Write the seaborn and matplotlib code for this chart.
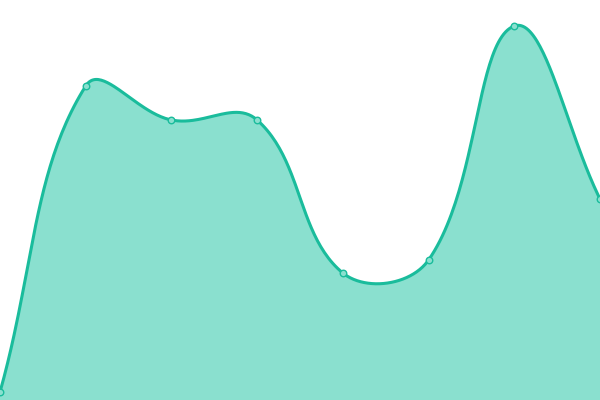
import numpy as np
import pandas as pd
import matplotlib
matplotlib.use('Agg')
import matplotlib.pyplot as plt
import seaborn as sns

# data
x_idx = [0, 1, 2, 3, 4, 5, 6, 7]
values = [8, 314, 280, 280, 127, 140, 374, 201]

LINE = '#1abc9c'
FILL = '#8ae0cf'
W, H = 600, 400


def smooth_curve(xs, ys, tension=0.4, n=50):
	# bezier smoothing of the polyline, done in pixel space (rendering only)
	k = len(xs) - 1
	pts = np.column_stack([np.asarray(xs, float) * W / k, np.asarray(ys, float)])
	m = len(pts)
	cp_in = pts.copy()
	cp_out = pts.copy()
	for i in range(m):
		p = pts[i]
		prev = pts[max(i-1, 0)]
		nxt = pts[min(i+1, m-1)]
		d0 = np.hypot(*(p - prev))
		d1 = np.hypot(*(nxt - p))
		s0 = d0 / (d0 + d1)
		s1 = d1 / (d0 + d1)
		cp_in[i] = p - tension * s0 * (nxt - prev)
		cp_out[i] = p + tension * s1 * (nxt - prev)
	cp_in[:, 0] = np.clip(cp_in[:, 0], 0, W); cp_out[:, 0] = np.clip(cp_out[:, 0], 0, W)
	cp_in[:, 1] = np.clip(cp_in[:, 1], 0, H); cp_out[:, 1] = np.clip(cp_out[:, 1], 0, H)
	ox, oy = [], []
	for i in range(m - 1):
		p1, c1, c2, p2 = pts[i], cp_out[i], cp_in[i+1], pts[i+1]
		t = np.linspace(0, 1, n, endpoint=(i == m - 2))[:, None]
		b = (1-t)**3*p1 + 3*(1-t)**2*t*c1 + 3*(1-t)*t**2*c2 + t**3*p2
		ox.extend(b[:, 0]); oy.extend(b[:, 1])
	return np.array(ox) * k / W, np.array(oy)


sns.set_theme(style='white')
fig = plt.figure(figsize=(6, 4), dpi=100)
ax = fig.add_axes([0, 0, 1, 1])

sx, sy = smooth_curve(x_idx, values)
ax.fill_between(sx, sy, 0, color=FILL, lw=0)
sns.lineplot(x=sx, y=sy, sort=False, color=LINE, lw=2.2, ax=ax)
sns.scatterplot(x=x_idx, y=values, s=22, color=FILL, edgecolor=LINE, linewidth=1, zorder=5, ax=ax)

ax.set_xlim(0, 7)
ax.set_ylim(0, H)
ax.axis('off')
fig.savefig('out.png', dpi=100)
